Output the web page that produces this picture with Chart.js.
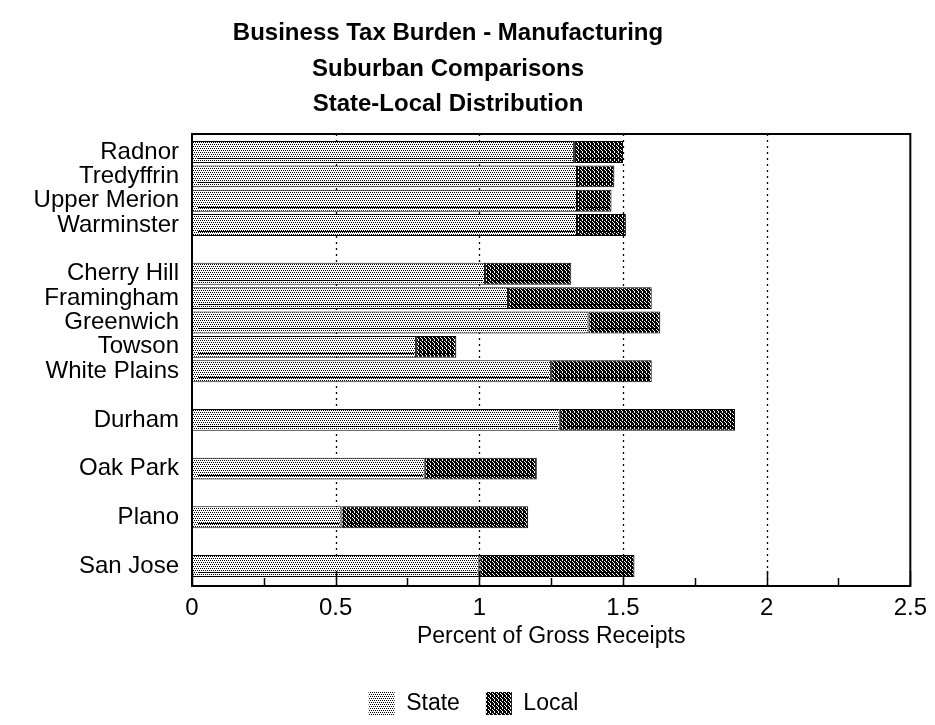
<!DOCTYPE html>
<html>
<head>
<meta charset="utf-8">
<title>Business Tax Burden - Manufacturing</title>
<script src="https://cdn.jsdelivr.net/npm/chart.js@4.4.1/dist/chart.umd.min.js"></script>
<style>
  html, body { margin: 0; padding: 0; background: #fff; }
  #wrap { width: 935px; height: 725px; }
</style>
</head>
<body>
<div id="wrap"><canvas id="chart" width="935" height="725"></canvas></div>
<script>
// Rows of the chart; empty strings are spacer rows between the groups of places.
const places = ['Radnor', 'Tredyffrin', 'Upper Merion', 'Warminster', '',
  'Cherry Hill', 'Framingham', 'Greenwich', 'Towson', 'White Plains', '',
  'Durham', '', 'Oak Park', '', 'Plano', '', 'San Jose'];

// Tax burden as percent of gross receipts, split into state and local parts.
const stateShare = [1.33, 1.34, 1.34, 1.34, null,
  1.02, 1.10, 1.38, 0.78, 1.25, null,
  1.28, null, 0.81, null, 0.52, null, 1.00];
const localShare = [0.17, 0.13, 0.12, 0.17, null,
  0.30, 0.50, 0.25, 0.14, 0.35, null,
  0.61, null, 0.39, null, 0.65, null, 0.54];

const pctTicks = [0, 0.5, 1, 1.5, 2, 2.5];
const pctTickLabels = ['0', '0.5', '1', '1.5', '2', '2.5'];
const seriesNames = ['State', 'Local'];
const titleLines = ['Business Tax Burden - Manufacturing', 'Suburban Comparisons', 'State-Local Distribution'];

const FAMILY = "'Liberation Sans', Arial, Helvetica, sans-serif";

// Small bitmap tiles used as fill patterns (stipple for state, hatch for local).
function makePattern(rows) {
  const n = rows.length;
  const c = document.createElement('canvas');
  c.width = n; c.height = n;
  const g = c.getContext('2d');
  g.fillStyle = '#fff';
  g.fillRect(0, 0, n, n);
  g.fillStyle = '#000';
  rows.forEach((r, y) => { for (let x = 0; x < n; x++) if (r[x] === '#') g.fillRect(x, y, 1, 1); });
  return g.createPattern(c, 'repeat');
}
const ctx0 = document.getElementById('chart').getContext('2d');
const statePattern = makePattern([
  '#.#.',
  '....',
  '.#.#',
  '....'
]);
const localPattern = makePattern([
  '##.#',
  '.###',
  '#.##',
  '##.#'
]);

function toPoints(values) {
  return places.map((p, i) => ({ x: values[i], y: i })).filter(d => d.x != null);
}

// Title block above the plot.
const titleBlock = {
  id: 'titleBlock',
  afterDraw(chart) {
    const { ctx } = chart;
    ctx.save();
    ctx.fillStyle = '#000';
    ctx.textAlign = 'center';
    ctx.textBaseline = 'middle';
    ctx.font = "bold 24px " + FAMILY;
    const ys = [33, 69, 104];
    titleLines.forEach((t, i) => ctx.fillText(t, 448, ys[i]));
    ctx.restore();
  }
};

// Dotted vertical grid, plot frame and inward tick marks on the value axis.
const plotFrame = {
  id: 'plotFrame',
  beforeDatasetsDraw(chart) {
    const { ctx, chartArea: a, scales: { x } } = chart;
    ctx.save();
    ctx.strokeStyle = '#000';
    ctx.lineWidth = 1.3;
    ctx.setLineDash([2, 4]);
    pctTicks.slice(1, -1).forEach(v => {
      const px = Math.round(x.getPixelForValue(v)) + 0.5;
      ctx.beginPath();
      ctx.moveTo(px, a.top);
      ctx.lineTo(px, a.bottom);
      ctx.stroke();
    });
    ctx.restore();
  },
  afterDatasetsDraw(chart) {
    const { ctx, chartArea: a, scales: { x } } = chart;
    ctx.save();
    ctx.strokeStyle = '#000';
    // lower edge of each bar's face
    chart.data.datasets.forEach((ds, di) => {
      chart.getDatasetMeta(di).data.forEach(bar => {
        const { x: bx, y: by, base, height } = bar.getProps(['x', 'y', 'base', 'height'], true);
        const yy = Math.round(by + height / 2 - 5) + 0.5;
        ctx.lineWidth = 1;
        ctx.beginPath();
        ctx.moveTo(base + 6, yy);
        ctx.lineTo(bx - 2, yy);
        ctx.stroke();
      });
    });
    // ticks: long at labelled values, short halfway between
    ctx.lineWidth = 1.5;
    for (let i = 0; i < pctTicks.length; i++) {
      const marks = [[pctTicks[i], 15]];
      if (i < pctTicks.length - 1) marks.push([(pctTicks[i] + pctTicks[i + 1]) / 2, 8]);
      marks.forEach(([v, len]) => {
        const px = Math.round(x.getPixelForValue(v)) + 0.5;
        ctx.beginPath();
        ctx.moveTo(px, a.bottom);
        ctx.lineTo(px, a.bottom - len);
        ctx.stroke();
      });
    }
    ctx.lineWidth = 2;
    ctx.strokeRect(a.left, a.top, a.right - a.left, a.bottom - a.top);
    ctx.restore();
  }
};

new Chart(ctx0, {
  type: 'bar',
  data: {
    datasets: [
      {
        label: seriesNames[0],
        data: toPoints(stateShare),
        backgroundColor: statePattern,
        borderColor: '#000',
        borderWidth: 1,
        borderSkipped: false
      },
      {
        label: seriesNames[1],
        data: toPoints(localShare),
        backgroundColor: localPattern,
        borderColor: '#000',
        borderWidth: 1,
        borderSkipped: false
      }
    ]
  },
  options: {
    indexAxis: 'y',
    responsive: false,
    animation: false,
    devicePixelRatio: 1,
    barPercentage: 0.9,
    categoryPercentage: 1,
    layout: { padding: { top: 134, right: 22, bottom: 0, left: 34 } },
    scales: {
      x: {
        type: 'linear',
        stacked: true,
        min: pctTicks[0],
        max: pctTicks[pctTicks.length - 1],
        afterBuildTicks: s => { s.ticks = pctTicks.map(v => ({ value: v })); },
        afterFit: s => { s.height = s.chart.height - s.chart.legend.height - 586; },
        grid: { display: false, drawTicks: false },
        border: { display: false },
        ticks: {
          color: '#000',
          padding: 8,
          font: { family: FAMILY, size: 24 },
          callback: (v, i) => pctTickLabels[i]
        },
        title: {
          display: true,
          text: 'Percent of Gross Receipts',
          color: '#000',
          font: { family: FAMILY, size: 23 },
          padding: { top: 0, bottom: 16 }
        }
      },
      y: {
        type: 'linear',
        stacked: true,
        reverse: true,
        offset: false,
        min: -0.74,
        max: 17.82,
        afterBuildTicks: s => { s.ticks = places.map((p, i) => ({ value: i })); },
        afterFit: s => { s.width = 158; },
        grid: { display: false, drawTicks: false },
        border: { display: false },
        ticks: {
          color: '#000',
          padding: 13,
          autoSkip: false,
          font: { family: FAMILY, size: 24 },
          callback: v => places[v] ?? ''
        }
      }
    },
    plugins: {
      title: { display: false },
      tooltip: { enabled: false },
      legend: {
        position: 'bottom',
        labels: {
          color: '#000',
          boxWidth: 26,
          boxHeight: 23,
          padding: 26,
          font: { family: FAMILY, size: 23 },
          generateLabels(chart) {
            const items = Chart.defaults.plugins.legend.labels.generateLabels(chart);
            items.forEach(it => { it.lineWidth = 0; it.strokeStyle = 'rgba(0,0,0,0)'; });
            return items;
          }
        }
      }
    }
  },
  plugins: [titleBlock, plotFrame]
});
</script>
</body>
</html>
